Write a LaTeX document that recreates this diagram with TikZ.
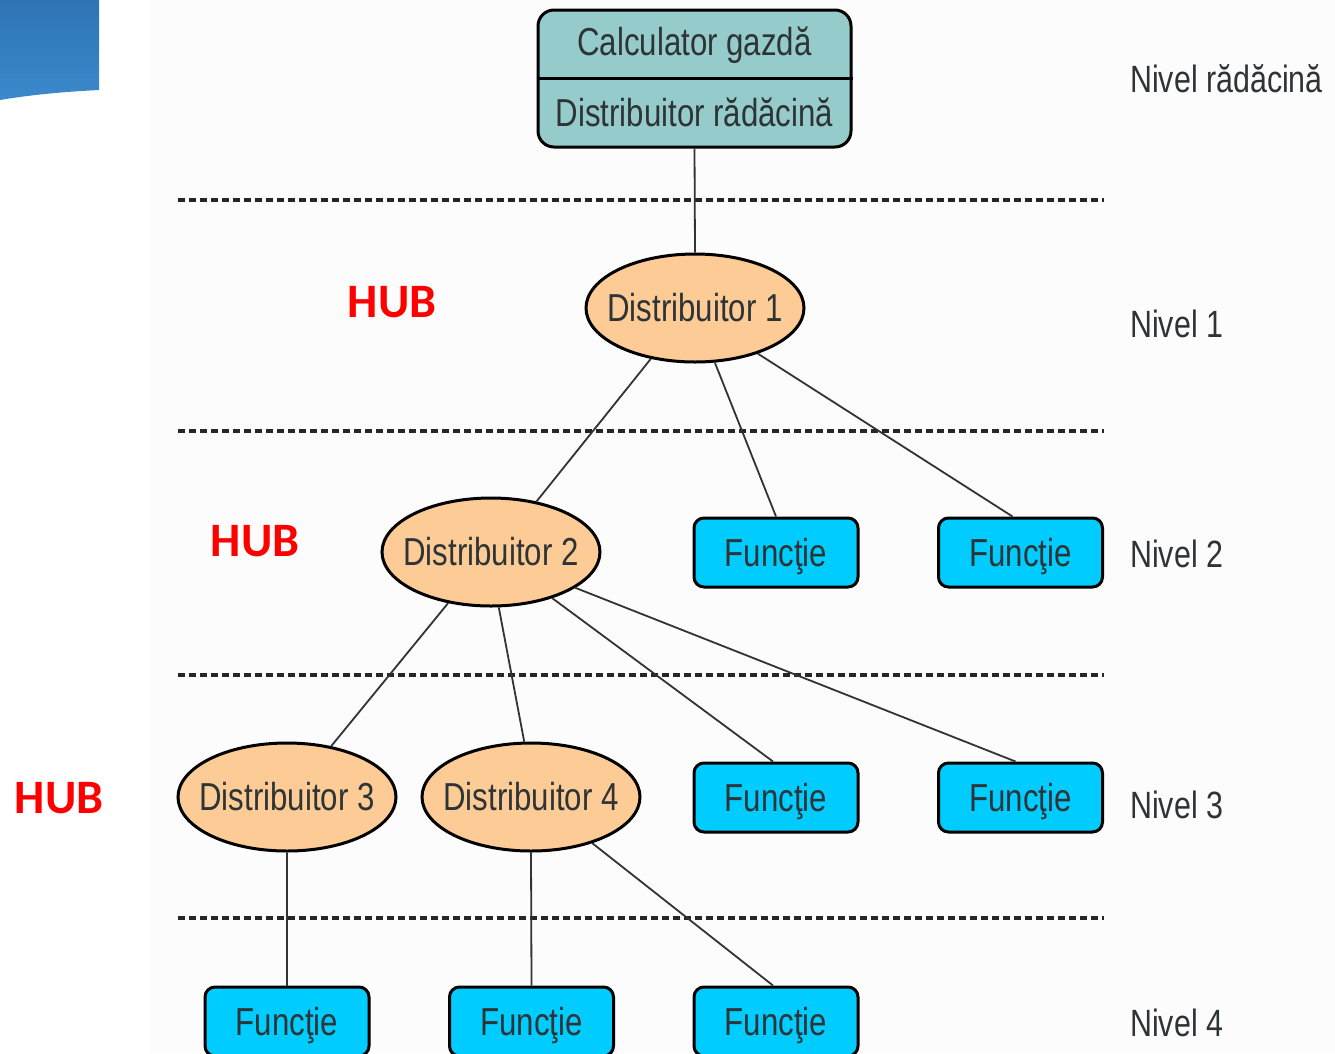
\documentclass[tikz,border=0pt]{standalone}
\usepackage{fontspec}
\setmainfont{Liberation Sans}
\newfontfamily\narrowfont[FakeStretch=0.8]{Liberation Sans}
\newfontfamily\hubfont{Carlito}
\usetikzlibrary{shapes.geometric,calc}
\definecolor{rootfill}{HTML}{95CCCB}
\definecolor{hubfill}{HTML}{FCCB96}
\definecolor{funcfill}{HTML}{00CCFF}
\definecolor{txtc}{HTML}{2E3436}
\definecolor{linec}{HTML}{333333}
\definecolor{bluetop}{HTML}{2E74B5}
\definecolor{bluebot}{HTML}{3B89CC}
\tikzset{
  lbl/.style={font=\narrowfont\fontsize{39}{44}\selectfont, text=txtc, inner sep=0pt},
  hubnode/.style={ellipse, draw=black, line width=3pt, fill=hubfill, minimum width=218pt, minimum height=108pt, inner sep=0pt, label={[lbl]center:#1}},
  funcbox/.style={rectangle, rounded corners=10pt, draw=black, line width=3pt, fill=funcfill, minimum width=164pt, minimum height=69pt, inner sep=0pt, lbl, text depth=0pt},
  conn/.style={draw=linec, line width=1.8pt},
  levelline/.style={draw=black!85, line width=3.2pt, dash pattern=on 7pt off 4pt},
  levellbl/.style={anchor=base west, font=\narrowfont\fontsize{38}{44}\selectfont, text=txtc, inner sep=0pt},
  hublbl/.style={font=\hubfont\bfseries\fontsize{48}{52}\selectfont, text=red, inner sep=0pt}
}
\begin{document}
\begin{tikzpicture}[x=1pt,y=-1pt]
\clip (0,0) rectangle (1335,1053);
\fill[white] (0,0) rectangle (1335,1053);
\fill[black!1] (150,0) rectangle (1335,1053);
% blue corner shape
\shade[top color=bluetop, bottom color=bluebot] (0,0) -- (99,0) -- (99,90) .. controls (60,92) and (30,95) .. (0,100) -- cycle;

% level separators
\coordinate (s1a) at (178,200); \coordinate (s1b) at (1104,200);
\coordinate (s2a) at (178,431); \coordinate (s2b) at (1104,431);
\coordinate (s3a) at (178,675); \coordinate (s3b) at (1104,675);
\coordinate (s4a) at (178,918); \coordinate (s4b) at (1104,918);
\draw[levelline] (s1a) -- (s1b);
\draw[levelline] (s2a) -- (s2b);
\draw[levelline] (s3a) -- (s3b);
\draw[levelline] (s4a) -- (s4b);

% root
\node[rectangle, rounded corners=16pt, draw=black, line width=3pt, fill=rootfill, minimum width=313pt, minimum height=137pt, inner sep=0pt] (root) at (694.5,78.5) {};
\draw[black, line width=3pt] (root.west) -- (root.east);
\node[lbl] (roottop) at (694.5,45) {Calculator gazdă};
\node[lbl] (rootbot) at (694.5,112) {Distribuitor rădăcină};

% hubs
\node[hubnode={Distribuitor 1}] (d1) at (695,308) {};
\node[hubnode={Distribuitor 2}] (d2) at (491,552) {};
\node[hubnode={Distribuitor 3}] (d3) at (287,797) {};
\node[hubnode={Distribuitor 4}] (d4) at (531,797) {};

% functions
\node[funcbox] (f21) at (776,552.5) {Funcţie};
\node[funcbox] (f22) at (1020.5,552.5) {Funcţie};
\node[funcbox] (f31) at (776,797.5) {Funcţie};
\node[funcbox] (f32) at (1020.5,797.5) {Funcţie};
\node[funcbox] (f41) at (287,1021.5) {Funcţie};
\node[funcbox] (f42) at (531.5,1021.5) {Funcţie};
\node[funcbox] (f43) at (776,1021.5) {Funcţie};

% connectors
\draw[conn] (root.south) -- (d1.north);
\draw[conn] (d1.229) -- (d2.48);
\draw[conn] (d1.290) -- (f21.north);
\draw[conn] (d1.324) -- ($(f22.north)+(-8,0)$);
\draw[conn] (d2.230) -- (d3.49);
\draw[conn] (d2.278) -- (d4.97);
\draw[conn] (d2.323) -- ($(f31.north)+(-3,0)$);
\draw[conn] (d2.337) -- ($(f32.north)+(-5,0)$);
\draw[conn] (d3.south) -- (f41.north);
\draw[conn] (d4.south) -- (f42.north);
\draw[conn] (d4.323) -- ($(f43.north)+(-3,0)$);

% HUB labels
\node[hublbl] (hub1) at (392,302) {HUB};
\node[hublbl] (hub2) at (255,541) {HUB};
\node[hublbl] (hub3) at (59,798) {HUB};

% level labels
\node[levellbl] (n0) at (1130,92) {Nivel rădăcină};
\node[levellbl] (n1) at (1130,337) {Nivel 1};
\node[levellbl] (n2) at (1130,567) {Nivel 2};
\node[levellbl] (n3) at (1130,818) {Nivel 3};
\node[levellbl] (n4) at (1130,1036) {Nivel 4};
\end{tikzpicture}
\end{document}
